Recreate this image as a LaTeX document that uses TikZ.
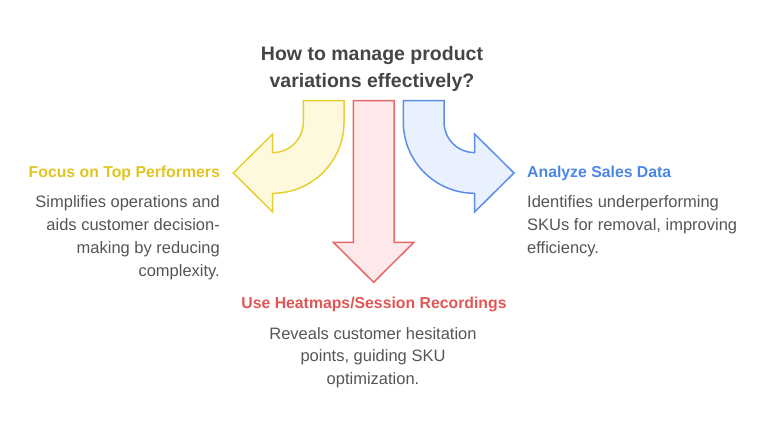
\documentclass[tikz,border=0pt]{standalone}
\usepackage{fontspec}
\setmainfont{Liberation Sans}
\definecolor{ylwline}{HTML}{E6CF33}
\definecolor{ylwfill}{HTML}{FEF9DC}
\definecolor{ylwtext}{HTML}{E0C420}
\definecolor{redline}{HTML}{E8696A}
\definecolor{redfill}{HTML}{FDE9E9}
\definecolor{redtext}{HTML}{E05555}
\definecolor{blueline}{HTML}{5B8DEB}
\definecolor{bluefill}{HTML}{EAF1FE}
\definecolor{bluetext}{HTML}{4A86E8}
\definecolor{bodygray}{HTML}{555555}
\definecolor{titlegray}{HTML}{454545}
\tikzset{
  arrowshape/.style={line width=1.5pt, line join=miter},
  titletext/.style={inner sep=0pt, align=center, text=titlegray, font=\fontsize{19.5}{27}\selectfont\bfseries},
  headtext/.style={inner sep=0pt, font=\fontsize{15.8}{20}\selectfont\bfseries},
  bodytext/.style={inner sep=0pt, text=bodygray, font=\fontsize{16.5}{23}\selectfont},
  bodytextb/.style={bodytext, font=\fontsize{16.5}{22.3}\selectfont},
}
\begin{document}
\begin{tikzpicture}[x=1pt,y=1pt]
\useasboundingbox (0,0) rectangle (768,424);
% yellow arrow (curving left)
\draw[arrowshape, draw=ylwline, fill=ylwfill]
  (303.3,323.3) -- (303.3,302) arc[start angle=0, end angle=-90, radius=30.6]
  -- (272.7,290) -- (233.3,251) -- (272.7,212) -- (272.7,230.7)
  arc[start angle=-90, end angle=0, radius=71.3] -- (344,323.3) -- cycle;
% red arrow (down)
\draw[arrowshape, draw=redline, fill=redfill]
  (353.3,323.3) -- (353.3,181.7) -- (333.3,181.7) -- (373.65,141.7)
  -- (414,181.7) -- (394,181.7) -- (394,323.3) -- cycle;
% blue arrow (curving right)
\draw[arrowshape, draw=blueline, fill=bluefill]
  (444,323.3) -- (444,302) arc[start angle=180, end angle=270, radius=30.6]
  -- (474.6,290) -- (514,251) -- (474.6,212) -- (474.6,230.7)
  arc[start angle=270, end angle=180, radius=71.3] -- (403.3,323.3) -- cycle;
% title
\node[titletext, anchor=north] (title) at (372,378) {How to manage product\\variations effectively?};
% left
\node[headtext, text=ylwtext, anchor=base east] (lhead) at (220,246.2) {Focus on Top Performers};
\node[bodytext, align=right, anchor=north east] (lbody) at (220,228.2) {Simplifies operations and\\aids customer decision-\\making by reducing\\complexity.};
% right
\node[headtext, text=bluetext, anchor=base west] (rhead) at (527,246.2) {Analyze Sales Data};
\node[bodytext, align=left, anchor=north west] (rbody) at (527,228.2) {Identifies underperforming\\SKUs for removal, improving\\efficiency.};
% bottom
\node[headtext, text=redtext, anchor=base] (bhead) at (374,115.5) {Use Heatmaps/Session Recordings};
\node[bodytextb, align=center, anchor=north] (bbody) at (373,96.7) {Reveals customer hesitation\\points, guiding SKU\\optimization.};
\end{tikzpicture}
\end{document}
